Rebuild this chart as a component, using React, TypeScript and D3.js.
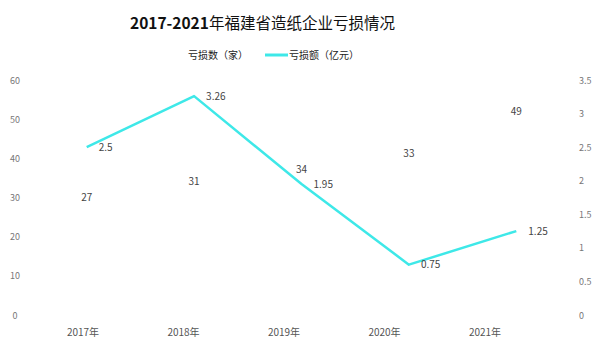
import React from "react";
import * as d3 from "d3";

const categories = ["2017年", "2018年", "2019年", "2020年", "2021年"];
const lossCount = [27, 31, 34, 33, 49];
const lossAmount = [2.5, 3.26, 1.95, 0.75, 1.25];
const leftTicks = [0, 10, 20, 30, 40, 50, 60];
const rightTicks = [0, 0.5, 1, 1.5, 2, 2.5, 3, 3.5];
const countLabelLift = [12, 12, 12, 32, 12];

const W = 606;
const H = 364;
const FONT = "'Noto Sans CJK SC', 'Noto Sans', sans-serif";

export default function App() {
  const x = d3.scaleBand<string>().domain(categories).range([33, 570]).padding(0);
  const xLabel = d3.scalePoint<string>().domain(categories).range([83, 485]);
  const yL = d3.scaleLinear().domain([0, 60]).range([315, 80]);
  const yR = d3.scaleLinear().domain([0, 3.5]).range([315, 80]);
  const cx = (c: string) => (x(c) as number) + x.bandwidth() / 2;

  const line = d3
    .line<number>()
    .x((_, i) => cx(categories[i]))
    .y((d) => yR(d));

  return (
    <div style={{ position: "absolute", left: 0, top: 0 }}>
      <svg width={W} height={H} style={{ display: "block", background: "#fff" }} fontFamily={FONT}>
        <rect width={W} height={H} fill="#fff" />
        <text x={130} y={29} fontSize={15.5} fill="#111">
          <tspan fontWeight="bold">2017-2021</tspan>
          <tspan fontWeight="normal">年福建省造纸企业亏损情况</tspan>
        </text>
        {/* legend */}
        <text x={188} y={59} fontSize={10} fill="#222">亏损数（家）</text>
        <line x1={265} x2={288} y1={55} y2={55} stroke="#3ee8e8" strokeWidth={3} />
        <text x={289} y={59} fontSize={10} fill="#222">亏损额（亿元）</text>

        {/* left axis */}
        {leftTicks.map((t) => (
          <text key={"l" + t} x={15} y={yL(t) + 3.5} fontSize={9} textAnchor="middle" fill="#777">
            {t}
          </text>
        ))}
        {/* right axis */}
        {rightTicks.map((t) => (
          <text key={"r" + t} x={579} y={yR(t) + 3.5} fontSize={9} textAnchor="start" fill="#777">
            {t}
          </text>
        ))}
        {/* x labels */}
        {categories.map((c) => (
          <text key={"x" + c} x={xLabel(c)} y={336} fontSize={10} textAnchor="middle" fill="#555">
            {c}
          </text>
        ))}

        {/* bars (white) */}
        {lossCount.map((v, i) => (
          <rect
            key={"b" + i}
            x={cx(categories[i]) - 20}
            width={40}
            y={yL(v)}
            height={yL(0) - yL(v)}
            fill="#fff"
          />
        ))}
        {lossCount.map((v, i) => (
          <text
            key={"bl" + i}
            x={cx(categories[i])}
            y={yL(v) - countLabelLift[i] + 3.5}
            fontSize={10}
            textAnchor="middle"
            fill="#444"
          >
            {v}
          </text>
        ))}

        {/* line */}
        <path d={line(lossAmount) || ""} fill="none" stroke="#3ee8e8" strokeWidth={2.5} strokeLinejoin="round" />
        {lossAmount.map((v, i) => (
          <text
            key={"ll" + i}
            x={cx(categories[i]) + 12}
            y={yR(v) + 3.5}
            fontSize={10}
            textAnchor="start"
            fill="#444"
          >
            {v}
          </text>
        ))}
      </svg>
    </div>
  );
}
